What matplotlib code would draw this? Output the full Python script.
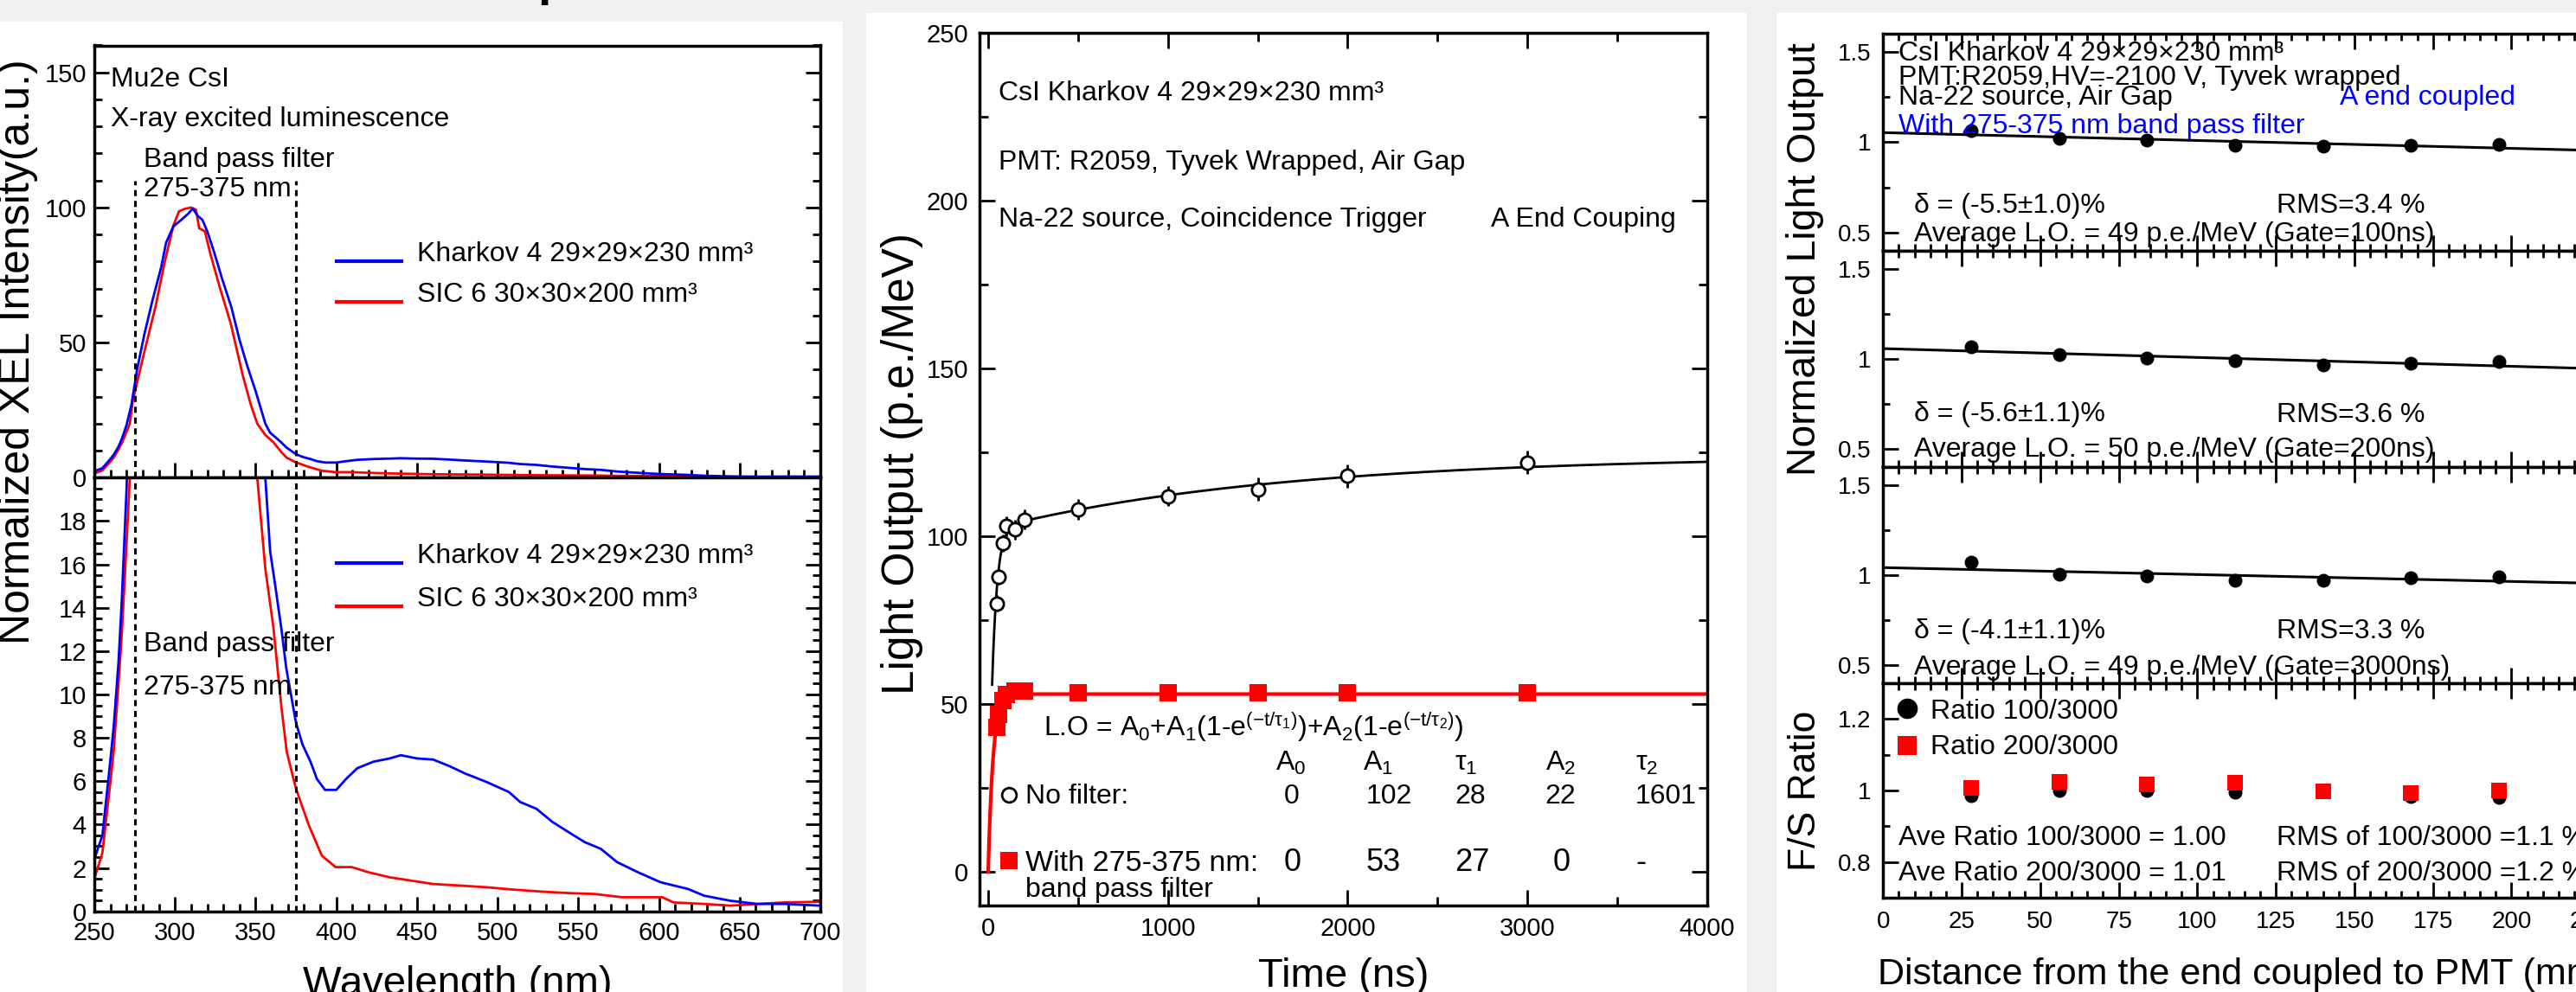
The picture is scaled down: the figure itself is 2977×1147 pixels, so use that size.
import numpy as np
import matplotlib
matplotlib.use("Agg")
import matplotlib.pyplot as plt
from matplotlib.patches import Rectangle
from matplotlib.lines import Line2D
from matplotlib.ticker import MultipleLocator, FixedLocator, FuncFormatter

# ---------------- data: panel 1 (X-ray excited luminescence) ----------------
wl_kharkov = [250, 255, 260, 262, 265, 267, 270, 273, 276.5, 281, 286, 291.5, 294.5, 299,
              304, 308, 311, 314, 317, 320, 324, 329, 335, 340, 345, 350, 353, 356, 359,
              362, 366, 369, 375, 379, 384, 388, 393, 400, 406, 413, 423, 433, 440, 450,
              460, 470, 480, 493, 507, 514, 524, 534, 544, 554, 564, 574, 587, 601, 618,
              628, 644, 661, 678, 700]
xel_kharkov = [2.4, 3.5, 7.0, 8.5, 11.5, 14.3, 19.5, 27, 40, 53, 65.5, 78, 87, 93,
               95.5, 97.6, 99.6, 97, 95.4, 91.2, 84, 74, 63, 51, 41, 32, 26, 20, 16.6,
               15.1, 13, 11.2, 8.7, 7.7, 6.9, 6.1, 5.6, 5.6, 6.1, 6.6, 6.9, 7.05, 7.2, 7.05,
               7.0, 6.7, 6.35, 5.97, 5.5, 5.04, 4.73, 4.12, 3.65, 3.19, 2.88, 2.27, 1.8, 1.34, 1.03,
               0.72, 0.49, 0.34, 0.34, 0.26]
wl_sic = [250, 255, 260, 262, 265, 267, 270, 272, 274, 281, 288, 293.5, 299, 302.5, 306,
          310, 313, 315, 318.5, 322, 327.5, 334.5, 342, 347, 351, 356, 361, 366, 369.3, 375,
          383, 391, 399.5, 409.5, 420, 433, 446, 460, 476, 493, 510, 527, 544, 560, 577,
          594, 602, 609, 628, 644, 661, 678, 700]
xel_sic = [1.5, 2.7, 6.0, 7.4, 10.5, 12.75, 17, 20, 29, 46.5, 63.5, 79.5, 93.3, 98.6, 99.5,
           100, 99.2, 92.3, 91.2, 82.7, 71, 57.2, 37.9, 27, 20, 15.8, 13.1, 9.4, 7.35, 5.66,
           3.96, 2.57, 2.04, 2.04, 1.8, 1.57, 1.42, 1.26, 1.19, 1.11, 1.0, 0.91, 0.84, 0.8, 0.65,
           0.65, 0.65, 0.41, 0.34, 0.26, 0.34, 0.41, 0.44]
filter_band_nm = [275, 375]
series_labels = ["Kharkov 4 29×29×230 mm³", "SIC 6 30×30×200 mm³"]

# ---------------- data: panel 2 (light output vs gate) ----------------
time_ns = [50, 60, 80, 100, 150, 200, 500, 1000, 1500, 2000, 3000]
lo_no_filter = [80, 88, 98, 103, 102, 105, 108, 112, 114, 118, 122]
lo_no_filter_err = [2.5, 2.5, 2.5, 3, 3, 3, 3, 3, 3.5, 3.5, 3.5]
lo_with_filter = [43, 47, 51, 53, 54, 54, 53.5, 53.5, 53.5, 53.5, 53.5]
fit_headers = ["A$_0$", "A$_1$", "τ$_1$", "A$_2$", "τ$_2$"]
fit_no_filter = [0, 102, 28, 22, 1601]      # A0, A1, tau1, A2, tau2
fit_with_filter = [0, 53, 27, 0, None]

# ---------------- data: panel 3 (longitudinal response) ----------------
distance_mm = [28, 56, 84, 112, 140, 168, 196]
nlo_gate100 = [1.063, 1.021, 1.012, 0.983, 0.978, 0.983, 0.986]
nlo_gate200 = [1.068, 1.026, 1.003, 0.992, 0.966, 0.975, 0.986]
nlo_gate3000 = [1.072, 1.004, 0.994, 0.972, 0.972, 0.987, 0.990]
ratio_100_3000 = [0.985, 1.0, 1.0, 0.995, 1.0, 0.983, 0.98]
ratio_200_3000 = [1.007, 1.025, 1.016, 1.022, 0.997, 0.992, 1.0]
delta_labels = ["δ = (-5.5±1.0)%", "δ = (-5.6±1.1)%", "δ = (-4.1±1.1)%"]
rms_labels = ["RMS=3.4 %", "RMS=3.6 %", "RMS=3.3 %"]
avg_lo = [49, 50, 49]
gate_ns = [100, 200, 3000]

# ---------------- figure setup ----------------
W, H, DPI = 2977, 1147, 100
plt.rcParams['font.family'] = ['Liberation Sans', 'DejaVu Sans']
plt.rcParams['mathtext.fontset'] = 'custom'
plt.rcParams['mathtext.rm'] = 'Liberation Sans'
plt.rcParams['mathtext.it'] = 'Liberation Sans:italic'
plt.rcParams['mathtext.bf'] = 'Liberation Sans:bold'

BLUE, RED = '#0000ff', '#ff0000'
DASH = (0, (2.3, 1.8))
fig = plt.figure(figsize=(W / DPI, H / DPI), dpi=DPI, facecolor='#f0f0f0')


def fx(x):
    return x / W


def fy(y):
    return 1 - y / H


def add_ax(l, t, r, b):
    ax = fig.add_axes([fx(l), fy(b), (r - l) / W, (b - t) / H])
    for s in ax.spines.values():
        s.set_linewidth(2.5)
    return ax


def ftext(x, y, s, size=23, ha='left', va='baseline', **kw):
    return fig.text(fx(x), fy(y), s, fontsize=size, ha=ha, va=va, **kw)


def fline(x0, x1, y, color, lw=3):
    fig.add_artist(Line2D([fx(x0), fx(x1)], [fy(y), fy(y)], color=color, lw=lw,
                          transform=fig.transFigure))


def fmarker(x, y, **kw):
    fig.add_artist(Line2D([fx(x)], [fy(y)], ls='none', transform=fig.transFigure, **kw))


int_fmt = FuncFormatter(lambda v, p: '%g' % v)

# white panels on grey slide background
for (l, t, r) in [(0, 25, 974), (1001, 14.5, 2019), (2053, 15, 2977)]:
    fig.add_artist(Rectangle((fx(l), 0), (r - l) / W, fy(t), transform=fig.transFigure,
                             facecolor='white', edgecolor='none', zorder=-10))

# fragment of slide title
ftext(621, -6, 'p', size=40, fontweight='bold')

# ================= panel 1 =================
ax1t = add_ax(109, 52.5, 948, 552.3)
ax1b = add_ax(109, 552.3, 948, 1053.7)
for ax, ylim in [(ax1t, (0, 160)), (ax1b, (0, 20))]:
    ax.plot(wl_sic, xel_sic, color=RED, lw=2)
    ax.plot(wl_kharkov, xel_kharkov, color=BLUE, lw=2)
    ax.set_xlim(250, 700)
    ax.set_ylim(*ylim)
    ax.xaxis.set_major_locator(MultipleLocator(50))
    ax.xaxis.set_minor_locator(MultipleLocator(10))
    ax.tick_params(which='both', direction='in', width=2, labelsize=21,
                   left=True, right=True, top=False, bottom=True)
    ax.tick_params(which='major', length=12.5)
    ax.tick_params(which='minor', length=6.2)
    ax.tick_params(axis='y', pad=6.5)
    ax.tick_params(axis='x', pad=8)
    ax.yaxis.set_major_formatter(int_fmt)
    ax.xaxis.set_major_formatter(int_fmt)

ax1t.vlines(filter_band_nm, 0, 110, colors='k', linestyles=DASH, lw=2.2)
ax1b.vlines(filter_band_nm, 0, 20, colors='k', linestyles=DASH, lw=2.2)
ax1t.yaxis.set_major_locator(MultipleLocator(50))
ax1t.yaxis.set_minor_locator(MultipleLocator(10))
ax1t.tick_params(axis='x', labelbottom=False)
ax1b.yaxis.set_major_locator(FixedLocator(list(range(0, 20, 2))))
ax1b.yaxis.set_minor_locator(MultipleLocator(0.5))

ftext(128, 100.5, 'Mu2e CsI')
ftext(128, 146.5, 'X-ray excited luminescence')
ftext(166, 193.5, 'Band pass filter')
ftext(166, 227, '275-375 nm')
ftext(166, 752.8, 'Band pass filter')
ftext(166, 803, '275-375 nm')
for (yb, yr) in [(302.5, 349.3), (651.3, 700.6)]:
    fline(389, 464, yb, BLUE)
    ftext(482.5, yb, series_labels[0])
    fline(389, 464, yr, RED)
    ftext(482.5, yr, series_labels[1])

fig.text(fx(34), fy(407), 'Normalized XEL Intensity(a.u.)', fontsize=36, rotation=90,
         rotation_mode='anchor', ha='center', va='baseline')
ftext(528.5, 1150.5, 'Wavelength (nm)', size=34, ha='center')

# ================= panel 2 =================
ax2 = add_ax(1132, 38, 1973, 1047)


def lo_model(t, p):
    a0, a1, t1, a2, t2 = p
    y = a0 + a1 * (1 - np.exp(-t / t1))
    if a2 and t2:
        y = y + a2 * (1 - np.exp(-t / t2))
    return y


t_black = np.linspace(22, 4000, 3000)
t_red = np.linspace(0, 4000, 3000)
ax2.plot(t_black, lo_model(t_black, fit_no_filter), color='k', lw=2)
ax2.plot(t_red, lo_model(t_red, fit_with_filter), color=RED, lw=3)
ax2.errorbar(time_ns, lo_no_filter, yerr=lo_no_filter_err, fmt='o', ms=11, mfc='white',
             mec='k', mew=2, ecolor='k', elinewidth=2, capsize=0, zorder=3)
ax2.plot(time_ns, lo_with_filter, 's', color=RED, ms=15, mew=0, zorder=4)
ax2.set_xlim(-48, 4000)
ax2.set_ylim(-10, 250)
ax2.xaxis.set_major_locator(MultipleLocator(1000))
ax2.xaxis.set_minor_locator(MultipleLocator(500))
ax2.yaxis.set_major_locator(MultipleLocator(50))
ax2.yaxis.set_minor_locator(MultipleLocator(25))
ax2.xaxis.set_major_formatter(int_fmt)
ax2.yaxis.set_major_formatter(int_fmt)
ax2.tick_params(which='both', direction='in', width=2, labelsize=21,
                left=True, right=True, top=True, bottom=True)
ax2.tick_params(which='major', length=13)
ax2.tick_params(which='minor', length=7)
ax2.tick_params(axis='y', pad=9.5)
ax2.tick_params(axis='x', pad=9.4)

ftext(1154, 116, 'CsI Kharkov 4 29×29×230 mm³')
ftext(1154, 196, 'PMT: R2059, Tyvek Wrapped, Air Gap')
ftext(1154, 262, 'Na-22 source, Coincidence Trigger')
ftext(1723, 262, 'A End Couping')
ftext(1206, 851.3, r'L.O = A$_0$+A$_1$(1-e$^{\mathregular{(-t/τ_1)}}$)+A$_2$(1-e$^{\mathregular{(-t/τ_2)}}$)')
hdr_x = [1492, 1593, 1694, 1803.6, 1903.6]
for x, s in zip(hdr_x, fit_headers):
    ftext(x, 891.3, s, ha='center')
row1_x = [1493, 1605.7, 1699, 1803.6, 1925]
row2_x = [1494, 1598.6, 1701, 1805, 1896]
for x, v in zip(row1_x, fit_no_filter):
    ftext(x, 928.8, '%g' % v, ha='center')
for x, v in zip(row2_x, fit_with_filter):
    ftext(x, 1007.4, '-' if v is None else '%g' % v, size=26, ha='center')
fmarker(1166, 919.4, marker='o', ms=12, mfc='white', mec='k', mew=2)
ftext(1185, 928.8, 'No filter:')
fmarker(1166, 995, marker='s', ms=15, color=RED, mew=0)
ftext(1185, 1007.4, 'With 275-375 nm:', size=24.5)
ftext(1185, 1037.3, 'band pass filter')

fig.text(fx(1056.4), fy(536.5), 'Light Output (p.e./MeV)', fontsize=37, rotation=90,
         rotation_mode='anchor', ha='center', va='baseline')
ftext(1552.5, 1141, 'Time (ns)', size=34, ha='center')

# ================= panel 3 =================
tops = [38.6, 290, 540, 790]
bots = [290, 540, 790, 1038]
axs3 = [add_ax(2176.3, t, 3084, b) for t, b in zip(tops, bots)]
xx = np.array([0, 250])
for ax, vals in zip(axs3[:3], [nlo_gate100, nlo_gate200, nlo_gate3000]):
    coef = np.polyfit(distance_mm, vals, 1)
    ax.plot(xx, np.polyval(coef, xx), color='k', lw=2.2)
    ax.plot(distance_mm, vals, 'o', color='k', ms=11.5, mew=0, zorder=3)
    ax.set_ylim(0.4, 1.6)
    ax.yaxis.set_major_locator(MultipleLocator(0.5))
    ax.yaxis.set_minor_locator(MultipleLocator(0.25))

ax4 = axs3[3]
ax4.plot(distance_mm, ratio_100_3000, 'o', color='k', ms=11.5, mew=0, zorder=3)
ax4.plot(distance_mm, ratio_200_3000, 's', color=RED, ms=13.3, mew=0, zorder=4)
ax4.set_ylim(0.7, 1.3)
ax4.yaxis.set_major_locator(FixedLocator([0.8, 1.0, 1.2]))
ax4.yaxis.set_minor_locator(MultipleLocator(0.1))

for i, ax in enumerate(axs3):
    ax.set_xlim(0, 250)
    ax.xaxis.set_major_locator(MultipleLocator(25))
    ax.xaxis.set_minor_locator(MultipleLocator(5))
    ax.xaxis.set_major_formatter(int_fmt)
    ax.yaxis.set_major_formatter(int_fmt)
    ax.tick_params(which='both', direction='in', width=2, labelsize=20,
                   left=True, right=True, top=True, bottom=True,
                   labelbottom=(i == 3))
    ax.tick_params(which='major', length=13)
    ax.tick_params(which='minor', length=6)
    ax.tick_params(axis='y', pad=9.7)
    ax.tick_params(axis='x', pad=10.8)

ftext(2194, 69.6, 'CsI Kharkov 4 29×29×230 mm³')
ftext(2194, 98.2, 'PMT:R2059,HV=-2100 V, Tyvek wrapped')
ftext(2194, 121.4, 'Na-22 source, Air Gap')
ftext(2703.5, 121.4, 'A end coupled', color=BLUE)
ftext(2194, 153.6, 'With 275-375 nm band pass filter', color=BLUE)
delta_y = [246.4, 487.5, 737.8]
avg_y = [278.6, 527.9, 780]
for i in range(3):
    ftext(2212, delta_y[i], delta_labels[i])
    ftext(2630.6, delta_y[i], rms_labels[i])
    ftext(2212, avg_y[i], 'Average L.O. = %d p.e./MeV (Gate=%dns)' % (avg_lo[i], gate_ns[i]))

fmarker(2204.4, 819.3, marker='o', ms=17, color='k', mew=0)
ftext(2231.3, 831, 'Ratio 100/3000')
fmarker(2204, 861.5, marker='s', ms=16, color=RED, mew=0)
ftext(2231.3, 872.4, 'Ratio 200/3000')
ftext(2194, 976.7, 'Ave Ratio 100/3000 = 1.00')
ftext(2630.6, 976.7, 'RMS of 100/3000 =1.1 %')
ftext(2194, 1018, 'Ave Ratio 200/3000 = 1.01')
ftext(2630.6, 1018, 'RMS of 200/3000 =1.2 %')

fig.text(fx(2098), fy(300), 'Normalized Light Output', fontsize=33.4, rotation=90,
         rotation_mode='anchor', ha='center', va='baseline')
fig.text(fx(2098), fy(914.5), 'F/S Ratio', fontsize=32, rotation=90,
         rotation_mode='anchor', ha='center', va='baseline')
ftext(2170, 1138, 'Distance from the end coupled to PMT (mm)', size=31)

fig.savefig('out.png', dpi=DPI, facecolor=fig.get_facecolor())
